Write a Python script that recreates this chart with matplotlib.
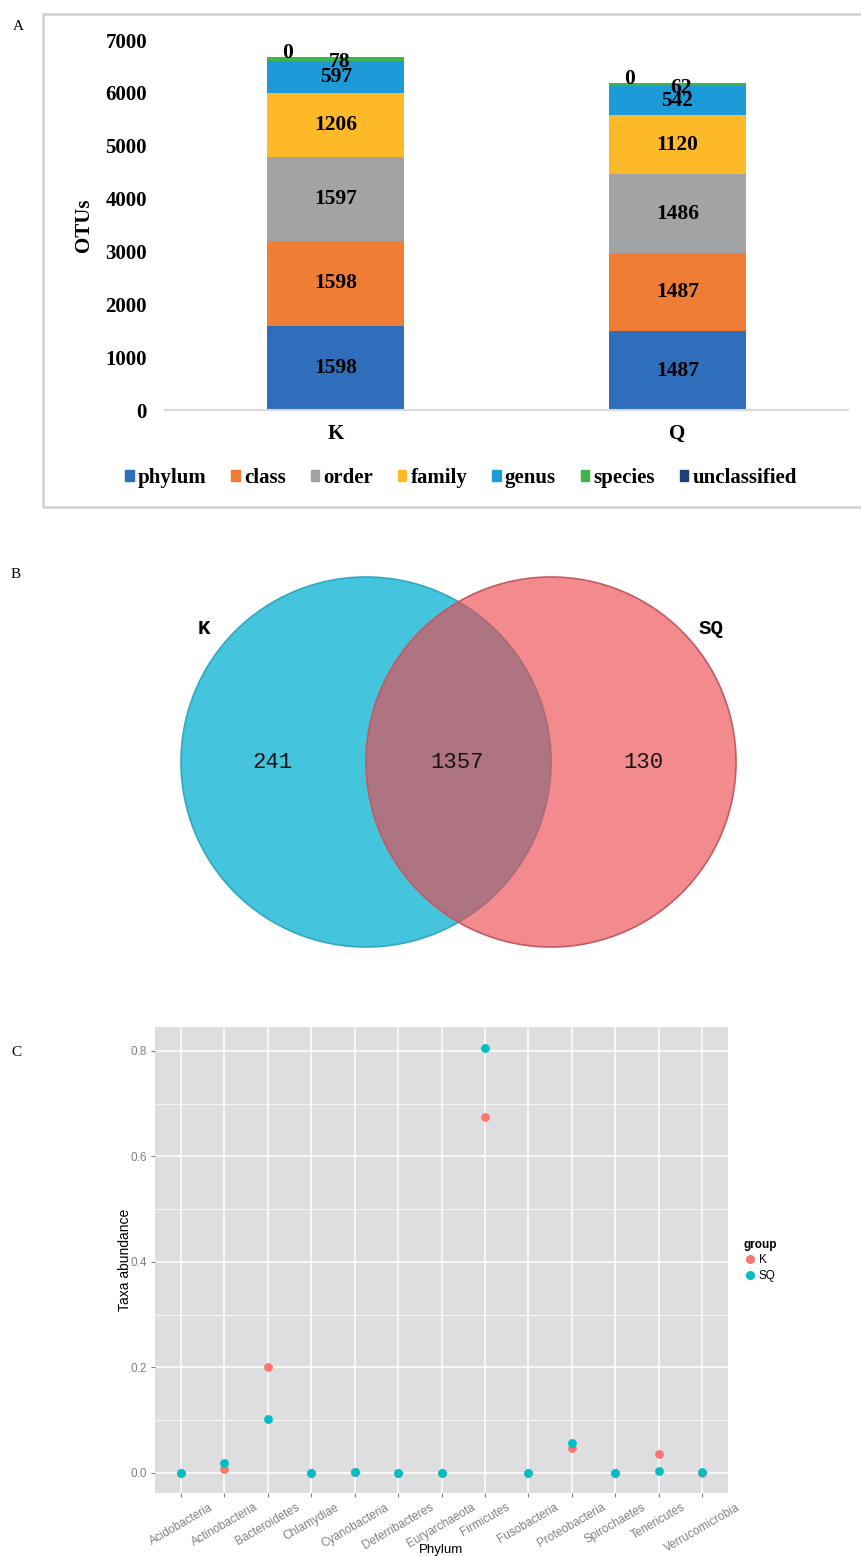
import matplotlib
matplotlib.use('Agg')
import matplotlib.pyplot as plt
from matplotlib.patches import Circle, Rectangle
from matplotlib.lines import Line2D
import numpy as np

# --- panel A data: OTU counts per taxonomic level
groups = ['K', 'Q']
levels = ['phylum', 'class', 'order', 'family', 'genus', 'species', 'unclassified']
k_counts = [1598, 1598, 1597, 1206, 597, 78, 0]
q_counts = [1487, 1487, 1486, 1120, 542, 62, 0]
level_colors = ['#2F6EBA', '#F07D35', '#A2A3A5', '#FDB927', '#1D9BD8', '#3DB54A', '#1F3F78']

# --- panel B data: venn
venn_names = ['K', 'SQ']
only_k = 241
shared = 1357
only_sq = 130

# --- panel C data: phylum abundance
phyla = ['Acidobacteria', 'Actinobacteria', 'Bacteroidetes', 'Chlamydiae', 'Cyanobacteria',
         'Deferribacteres', 'Euryarchaeota', 'Firmicutes', 'Fusobacteria', 'Proteobacteria',
         'Spirochaetes', 'Tenericutes', 'Verrucomicrobia']
k_abund = [0.0, 0.008, 0.201, 0.0, 0.001, 0.0, 0.0, 0.674, 0.0, 0.048, 0.0, 0.035, 0.0]
sq_abund = [0.0, 0.018, 0.102, 0.0, 0.001, 0.0, 0.0, 0.805, 0.0, 0.057, 0.0, 0.003, 0.002]

W, H = 861, 1556
fig = plt.figure(figsize=(W / 100, H / 100), dpi=100)


def box(x0, y0, x1, y1):
    # pixel box -> figure fraction
    return [x0 / W, 1 - y1 / H, (x1 - x0) / W, (y1 - y0) / H]


serif = 'Liberation Serif'
sans = 'Liberation Sans'
mono = 'Liberation Mono'

# ================= A =================
fig.patches.append(Rectangle((43 / W, 1 - 507 / H), (880 - 43) / W, (507 - 14) / H,
                             transform=fig.transFigure, fill=False,
                             edgecolor='#D0D0D0', lw=1.8))
fig.text(18 / W, 1 - 27 / H, 'A', family=serif, fontsize=11, ha='center', va='center')

axA = fig.add_axes(box(165, 40, 848, 410))
data = np.array([k_counts, q_counts]).T
xpos = np.arange(len(groups))
bottom = np.zeros(len(groups))
handles = []
lab_kw = dict(ha='center', va='center', family=serif, weight='bold', fontsize=15.5)
for i, lvl in enumerate(levels):
    vals = data[i]
    axA.bar(xpos, vals, 0.4, bottom=bottom, color=level_colors[i], label=lvl)
    handles.append(Rectangle((0, 0), 1, 1, color=level_colors[i]))
    for j in range(len(groups)):
        v = vals[j]
        top = bottom[j] + v
        if v == 0:
            axA.text(xpos[j] - 0.14, top + 75, '0', **lab_kw)
        elif lvl == 'species':
            axA.text(xpos[j] + 0.01, top - 85, str(v), **lab_kw)
        else:
            axA.text(xpos[j], bottom[j] + v / 2, str(v), **lab_kw)
    bottom += vals

axA.set_xlim(-0.5, 1.5)
axA.set_ylim(0, 7000)
axA.set_yticks(range(0, 7001, 1000))
axA.set_xticks(xpos)
axA.set_xticklabels(groups)
for lab in axA.get_xticklabels() + axA.get_yticklabels():
    lab.set_family(serif)
    lab.set_weight('bold')
    lab.set_fontsize(15)
axA.tick_params(axis='y', length=0, pad=13)
axA.tick_params(axis='x', length=0, pad=10)
for s in ['top', 'right', 'left']:
    axA.spines[s].set_visible(False)
axA.spines['bottom'].set_color('#D9D9D9')
axA.spines['bottom'].set_linewidth(1.5)
axA.set_ylabel('OTUs', family=serif, weight='bold', fontsize=15)
axA.yaxis.set_label_coords(-0.104, 0.5)

fig.legend(handles, levels, loc='center', bbox_to_anchor=(461 / W, 1 - 478 / H),
           ncol=7, frameon=False, handlelength=0.4, handleheight=0.45,
           handletextpad=0.2, columnspacing=1.2,
           prop={'family': serif, 'weight': 'bold', 'size': 15})

# ================= B =================
fig.text(16 / W, 1 - 575 / H, 'B', family=serif, fontsize=11, ha='center', va='center')
axB = fig.add_axes(box(0, 560, 861, 970))
axB.set_xlim(0, 861)
axB.set_ylim(970, 560)
axB.axis('off')
axB.add_patch(Circle((366, 762), 185, facecolor='#44C4DD', edgecolor='#33A8C1', lw=1.2))
axB.add_patch(Circle((551, 762), 185, facecolor=(236 / 255, 72 / 255, 78 / 255, 0.64),
                     edgecolor='#C25A62', lw=1.2))
axB.text(204, 628, venn_names[0], family=mono, weight='bold', fontsize=15, ha='center', va='center')
axB.text(711, 628, venn_names[1], family=mono, weight='bold', fontsize=15, ha='center', va='center')
for xx, val in zip([272, 457, 643], [only_k, shared, only_sq]):
    axB.text(xx, 762, str(val), family=mono, fontsize=16, ha='center', va='center', color='#151515')

# ================= C =================
fig.text(16 / W, 1 - 1052 / H, 'C', family=serif, fontsize=11, ha='center', va='center')
axC = fig.add_axes(box(155, 1027, 728, 1493))
axC.set_facecolor('#DEDEE0')
pos = np.arange(1, len(phyla) + 1)
axC.scatter(pos, k_abund, s=40, color='#F8766D', zorder=3, label='K', linewidths=0)
axC.scatter(pos, sq_abund, s=40, color='#00BFC4', zorder=4, label='SQ', linewidths=0)
axC.set_xlim(0.4, len(phyla) + 0.6)
axC.set_ylim(-0.038, 0.845)
axC.set_yticks([0.0, 0.2, 0.4, 0.6, 0.8])
axC.set_yticklabels(['0.0', '0.2', '0.4', '0.6', '0.8'])
axC.set_yticks([0.1, 0.3, 0.5, 0.7], minor=True)
axC.set_xticks(pos)
axC.set_xticklabels(phyla, rotation=30, ha='center')
axC.grid(which='major', color='white', lw=1.1, zorder=0)
axC.grid(which='minor', axis='y', color='white', lw=0.5, zorder=0)
axC.set_axisbelow(True)
for s in axC.spines.values():
    s.set_visible(False)
axC.tick_params(which='major', colors='#808080', length=3, width=0.8, labelsize=8.5, pad=3)
axC.tick_params(which='minor', length=0)
for lab in axC.get_xticklabels() + axC.get_yticklabels():
    lab.set_family(sans)
axC.set_xlabel('Phylum', family=sans, fontsize=9.5)
axC.xaxis.set_label_coords(0.5, -0.11)
axC.set_ylabel('Taxa abundance', family=sans, fontsize=10)
axC.yaxis.set_label_coords(-0.04, 0.5)

leg_handles = [Line2D([], [], marker='o', ls='', color='#F8766D', markersize=5.5),
               Line2D([], [], marker='o', ls='', color='#00BFC4', markersize=5.5)]
leg = fig.legend(leg_handles, ['K', 'SQ'], title='group', loc='upper left',
                 bbox_to_anchor=(733 / W, 1 - 1228 / H), frameon=False,
                 handlelength=1.0, handletextpad=0.3, labelspacing=0.3,
                 prop={'family': sans, 'size': 8.5},
                 title_fontproperties={'family': sans, 'weight': 'bold', 'size': 8.5})
leg._legend_box.align = 'left'

fig.savefig('out.png', dpi=100)
